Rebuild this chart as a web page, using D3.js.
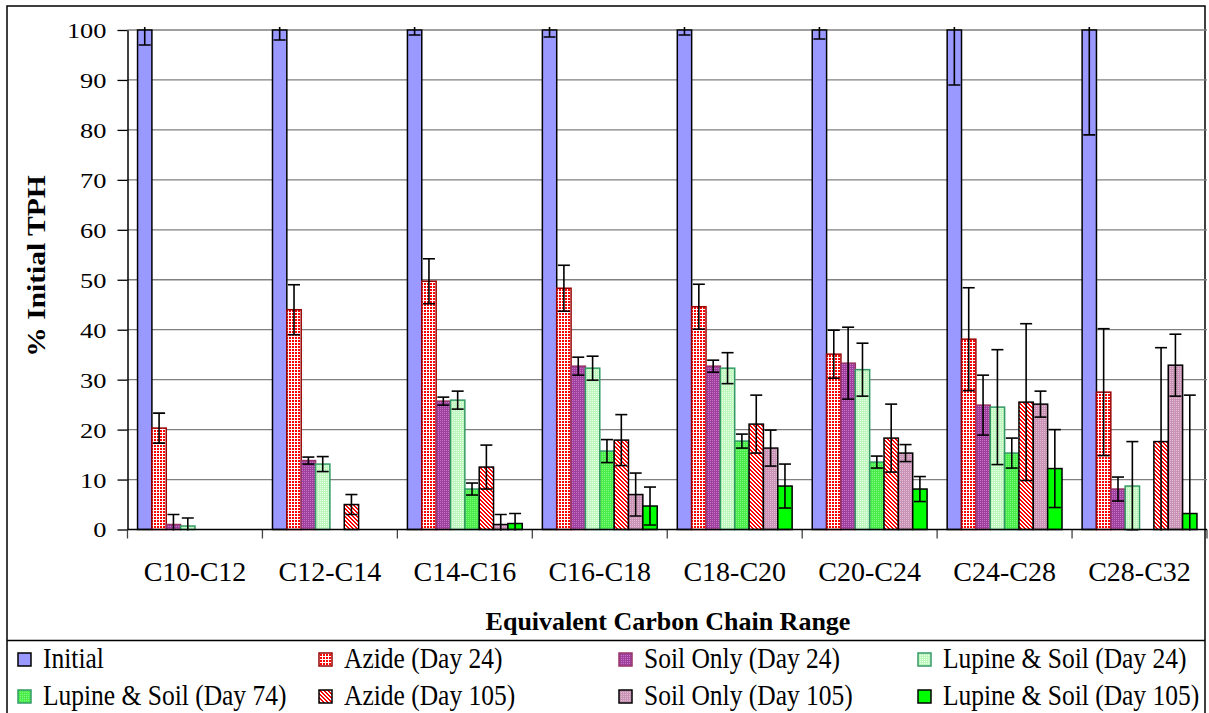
<!DOCTYPE html>
<html><head><meta charset="utf-8">
<script src="https://cdnjs.cloudflare.com/ajax/libs/d3/7.8.5/d3.min.js"></script>
<style>body{margin:0;background:#fff}svg{display:block}svg text{font-family:"Liberation Serif","Times New Roman",serif}</style>
</head><body><svg id="c" width="1209" height="713"></svg>
<script>
const categories = ["C10-C12","C12-C14","C14-C16","C16-C18","C18-C20","C20-C24","C24-C28","C28-C32"];
const yTicks = [0,10,20,30,40,50,60,70,80,90,100];
const seriesNames = ["Initial","Azide (Day 24)","Soil Only (Day 24)","Lupine & Soil (Day 24)","Lupine & Soil (Day 74)","Azide (Day 105)","Soil Only (Day 105)","Lupine & Soil (Day 105)"];
const initial      = [100,100,100,100,100,100,100,100];
const initialErr   = [3,2,1,1.4,1,1.8,11,21];
const azide24      = [20.3,44,49.7,48.3,44.6,35.1,38.1,27.5];
const azide24Err   = [3,5,4.5,4.6,4.5,4.8,10.3,12.7];
const soil24       = [1,13.8,25.7,32.7,32.7,33.3,24.9,8.1];
const soil24Err    = [2,0.7,0.8,1.8,1.2,7.2,6,2.4];
const lupine24     = [0.7,13.1,25.9,32.3,32.3,32,24.5,8.7];
const lupine24Err  = [1.6,1.5,1.8,2.4,3.1,5.3,11.5,8.9];
const lupine74     = [0,0,8.1,15.7,17.7,13.5,15.3,0];
const lupine74Err  = [0,0,1.2,2.3,1.4,1.2,3,0];
const azide105     = [0,5,12.5,17.9,21.1,18.3,25.5,17.6];
const azide105Err  = [0,2,4.4,5.1,5.8,6.8,15.7,18.8];
const soil105      = [0,0,1,7,16.3,15.3,25.1,32.9];
const soil105Err   = [0,0,2,4.3,3.6,1.7,2.6,6.2];
const lupine105    = [0,0,1.2,4.7,8.7,8.1,12.2,3.2];
const lupine105Err = [0,0,2,3.8,4.4,2.5,7.8,23.7];

const seriesVals = [initial,azide24,soil24,lupine24,lupine74,azide105,soil105,lupine105];
const seriesErrs = [initialErr,azide24Err,soil24Err,lupine24Err,lupine74Err,azide105Err,soil105Err,lupine105Err];
const seriesFill = ["#9999FF","url(#pAz24)","url(#pSo24)","url(#pLu24)","url(#pLu74)","url(#pAz105)","url(#pSo105)","#00FF00"];
const seriesStroke = ["#000","#990000","#993366","#339966","#339966","#000","#000","#000"];

const FONT = '"Liberation Serif","Times New Roman",serif';
const svg = d3.select("#c");
svg.append("rect").attr("width",1209).attr("height",713).attr("fill","#fff");
const defs = svg.append("defs");
function pat(id,w,h,bg,build){
  const p = defs.append("pattern").attr("id",id).attr("patternUnits","userSpaceOnUse").attr("width",w).attr("height",h);
  p.append("rect").attr("width",w).attr("height",h).attr("fill",bg);
  build(p);
}
function px(p,pts,color){ pts.forEach(([a,b])=>p.append("rect").attr("x",a).attr("y",b).attr("width",1).attr("height",1).attr("fill",color)); }
pat("pAz24",3,3,"#FF0000",p=>{
  p.append("rect").attr("x",0).attr("y",0).attr("width",3).attr("height",1).attr("fill","#fff");
  p.append("rect").attr("x",0).attr("y",0).attr("width",1).attr("height",3).attr("fill","#fff");
});
pat("pSo24",2,2,"#9E3F9E",p=>px(p,[[0,0]],"#C775C7"));
pat("pLu24",2,2,"#BDF7BD",p=>px(p,[[0,0]],"#E8FFE8"));
pat("pLu74",2,2,"#4CEB4C",p=>px(p,[[0,0]],"#7CFF7C"));
pat("pAz105",4,4,"#FFFFFF",p=>px(p,[[0,0],[1,0],[1,1],[2,1],[2,2],[3,2],[3,3],[0,3]],"#FF0000"));
pat("pSo105",2,2,"#C893B4",p=>px(p,[[0,0]],"#E2BCD2"));

const pLeft=127.5, pRight=1207, pTop=30, pBottom=529.5;
const x0 = d3.scaleBand().domain(categories).range([pLeft,pRight]).paddingInner(0).paddingOuter(0);
const x1 = d3.scaleBand().domain(d3.range(seriesNames.length)).range([0,x0.bandwidth()]).paddingInner(0).paddingOuter(0.7);
const y = d3.scaleLinear().domain([0,100]).range([pBottom,pTop]);

// outer frame
svg.append("rect").attr("x",7).attr("y",6).attr("width",1198).attr("height",720).attr("fill","none").attr("stroke","#000").attr("stroke-width",1.5);
svg.append("line").attr("x1",7).attr("x2",1205).attr("y1",640.5).attr("y2",640.5).attr("stroke","#000").attr("stroke-width",1.5);

// gridlines
svg.append("g").selectAll("line").data(yTicks.filter(d=>d>0)).join("line")
  .attr("x1",pLeft).attr("x2",pRight).attr("y1",d=>y(d)).attr("y2",d=>y(d))
  .attr("stroke","#808080").attr("stroke-width",1.3);

// y axis
const ya = svg.append("g").attr("transform",`translate(${pLeft},0)`)
  .call(d3.axisLeft(y).tickValues(yTicks).tickSize(10).tickSizeOuter(0));
ya.attr("font-family",null);
ya.select(".domain").attr("stroke","#000").attr("stroke-width",1.5);
ya.selectAll(".tick line").attr("stroke","#000").attr("stroke-width",1.3);
ya.selectAll(".tick text").style("font-family",FONT).attr("font-size",22).attr("fill","#000")
  .attr("x",-21/1.2).attr("transform","scale(1.2,1)").attr("dy","0.34em");

// x axis labels
const xa = svg.append("g").attr("transform",`translate(0,${pBottom})`)
  .call(d3.axisBottom(x0).tickSize(0).tickSizeOuter(0));
xa.attr("font-family",null);
xa.select(".domain").remove();
xa.selectAll(".tick text").style("font-family",FONT).attr("font-size",28).attr("fill","#000")
  .attr("y",51).attr("dy",0);
// boundary ticks
const bounds = categories.map(c=>x0(c)).concat([x0(categories[categories.length-1])+x0.bandwidth()]);
svg.append("g").selectAll("line").data(bounds).join("line")
  .attr("x1",d=>d).attr("x2",d=>d).attr("y1",pBottom).attr("y2",pBottom+9)
  .attr("stroke","#444").attr("stroke-width",1.3);

// bars
const gBars = svg.append("g");
seriesVals.forEach((vals,si)=>{
  gBars.append("g").selectAll("rect").data(vals).join("rect")
    .attr("x",(d,i)=>x0(categories[i])+x1(si))
    .attr("y",d=>y(d))
    .attr("width",x1.bandwidth())
    .attr("height",d=>y(0)-y(d))
    .attr("fill",seriesFill[si])
    .attr("stroke",seriesStroke[si])
    .attr("stroke-width",1.5);
});
// x axis line
svg.append("line").attr("x1",pLeft).attr("x2",pRight).attr("y1",pBottom).attr("y2",pBottom).attr("stroke","#000").attr("stroke-width",1.5);

// error bars
defs.append("clipPath").attr("id","errClip").append("rect").attr("x",pLeft).attr("y",27).attr("width",pRight-pLeft).attr("height",pBottom-27+1);
const gErr = svg.append("g").attr("clip-path","url(#errClip)");
seriesVals.forEach((vals,si)=>{
  const errs = seriesErrs[si];
  vals.forEach((v,i)=>{
    const e = errs[i];
    if(!e) return;
    const cx = x0(categories[i])+x1(si)+x1.bandwidth()/2;
    const g = gErr.append("g").attr("stroke","#000").attr("stroke-width",1.6);
    g.append("line").attr("x1",cx).attr("x2",cx).attr("y1",y(v+e)).attr("y2",y(v-e));
    g.append("line").attr("x1",cx-6).attr("x2",cx+6).attr("y1",y(v+e)).attr("y2",y(v+e));
    g.append("line").attr("x1",cx-6).attr("x2",cx+6).attr("y1",y(v-e)).attr("y2",y(v-e));
  });
});

// axis titles
svg.append("text").attr("transform","translate(36,266) rotate(-90) scale(1.18,1)")
  .attr("text-anchor","middle").attr("dy","0.35em").style("font-family",FONT)
  .attr("font-weight","bold").attr("font-size",25).text("% Initial TPH");
svg.append("text").attr("x",668).attr("y",630).attr("text-anchor","middle").style("font-family",FONT)
  .attr("font-weight","bold").attr("font-size",26).text("Equivalent Carbon Chain Range");

// legend
const legX = [18,319,619,918], legY = [653,690];
const leg = svg.append("g").selectAll("g").data(seriesNames).join("g")
  .attr("transform",(d,i)=>`translate(${legX[i%4]},${legY[Math.floor(i/4)]})`);
leg.append("rect").attr("width",13).attr("height",13)
  .attr("fill",(d,i)=>seriesFill[i]).attr("stroke",(d,i)=>seriesStroke[i]).attr("stroke-width",1.5);
leg.append("text").attr("transform","translate(25,15) scale(1,1.13)").style("font-family",FONT)
  .attr("font-size",25.5).text(d=>d);
</script></body></html>
